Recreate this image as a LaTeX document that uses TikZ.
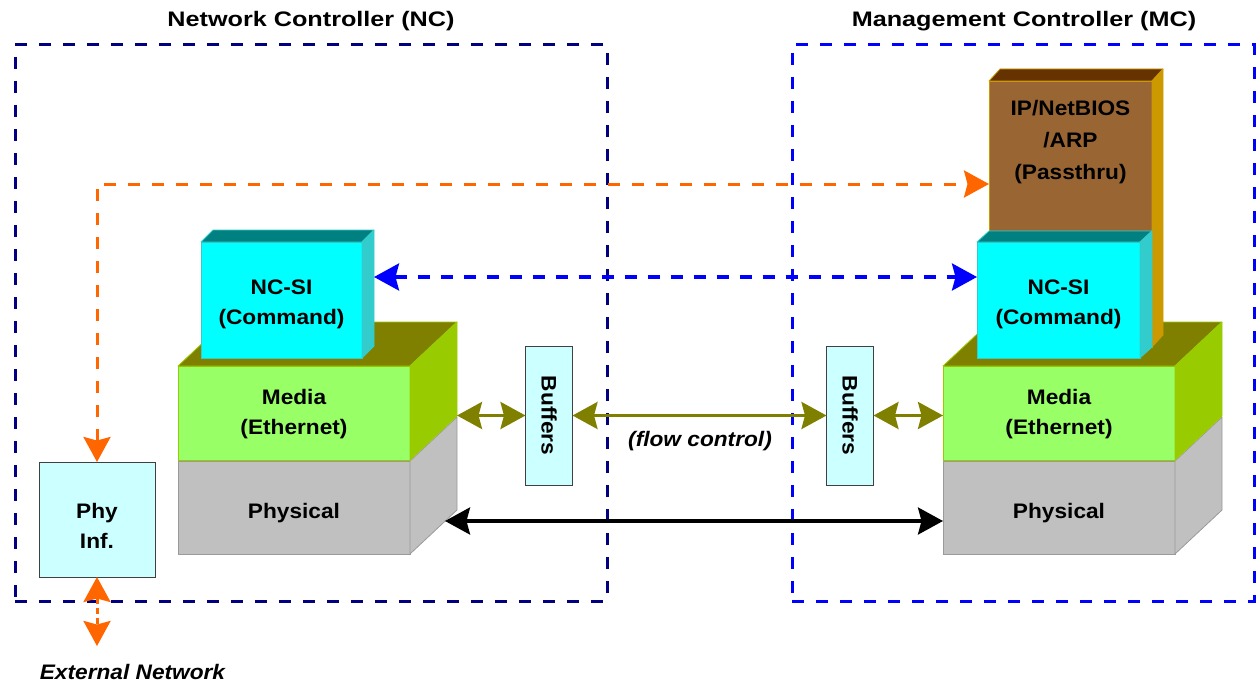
\documentclass[tikz,border=0pt]{standalone}
\usepackage{fontspec}
\setmainfont{Liberation Sans}[FakeStretch=1.08]
\newfontfamily\titlefont{Liberation Sans}[FakeStretch=1.2]
\usetikzlibrary{arrows.meta,calc}

\definecolor{ncnavy}{HTML}{000080}
\definecolor{mcblue}{HTML}{0000FF}
\definecolor{mediaF}{HTML}{99FF66}
\definecolor{mediaT}{HTML}{808000}
\definecolor{mediaR}{HTML}{99CC00}
\definecolor{phyF}{HTML}{C0C0C0}
\definecolor{phyE}{HTML}{9A9A9A}
\definecolor{nciF}{HTML}{00FFFF}
\definecolor{nciT}{HTML}{008080}
\definecolor{nciR}{HTML}{33CCCC}
\definecolor{ipF}{HTML}{996633}
\definecolor{ipT}{HTML}{663300}
\definecolor{ipR}{HTML}{CC9900}
\definecolor{bufF}{HTML}{CCFFFF}
\definecolor{bufE}{HTML}{404040}
\definecolor{flow}{HTML}{808000}
\definecolor{passthru}{HTML}{FF6600}

% top and right faces of a block whose front face is node #1
% #2 depth to the right, #3 rise, #4 fill, #5 edge
\newcommand{\blocktop}[5]{%
  \filldraw[fill=#4, draw=#5, line width=0.8pt, line join=round]
    (#1.north west) -- ++(#2,-#3) -- ($(#1.north east)+(#2,-#3)$) -- (#1.north east) -- cycle;}
\newcommand{\blockside}[5]{%
  \filldraw[fill=#4, draw=#5, line width=0.8pt, line join=round]
    (#1.north east) -- ++(#2,-#3) -- ($(#1.south east)+(#2,-#3)$) -- (#1.south east) -- cycle;}
% a text line set a little lower, keeping its size for centring
\newcommand{\lowered}[2]{\raisebox{-#1pt}[\height][\depth]{#2}}

\tikzset{
  lbl/.style={font=\fontsize{21}{30}\selectfont\bfseries, align=center},
  title/.style={font=\titlefont\fontsize{21}{25}\selectfont\bfseries},
  note/.style={font=\fontsize{21}{25}\selectfont\bfseries\itshape},
  face/.style={lbl, inner sep=0pt, outer sep=0pt, line width=0.8pt},
  bufbox/.style={face, fill=bufF, draw=bufE, line width=1pt},
  ctlbox/.style={draw, line width=3pt, dash pattern=on 12pt off 12pt, inner sep=0pt, outer sep=0pt},
  tipend/.tip={Stealth[length=25pt, width=27pt, inset=3.5pt]},
  link/.style={line width=3.3pt, tipend-tipend},
}

\begin{document}
\begin{tikzpicture}[x=1pt, y=-1pt]
\useasboundingbox (0,0) rectangle (1256,685);

% controller enclosures
\node[ctlbox, draw=ncnavy, minimum width=592pt, minimum height=556pt] (nc) at (311,323) {};
\node[ctlbox, draw=mcblue, minimum width=462pt, minimum height=556pt] (mc) at (1023,323) {};
\node[title] (nctitle) at (311,21.5) {Network Controller (NC)};
\node[title] (mctitle) at (1024,21.5) {Management Controller (MC)};

% NC protocol stack
\node[face, fill=phyF, draw=phyE, minimum width=232pt, minimum height=93pt] (lphy) at (294,507.5) {\lowered{6}{Physical}};
\blockside{lphy}{47}{44}{phyF}{phyE}
\node[face, fill=mediaF, draw=mediaR, minimum width=232pt, minimum height=94pt] (lmed) at (294,413) {\lowered{1}{Media}\\\lowered{1}{(Ethernet)}};
\blocktop{lmed}{47}{44}{mediaT}{mediaR}
\blockside{lmed}{47}{44}{mediaR}{mediaR}
\node[face, fill=nciF, draw=nciR, minimum width=161pt, minimum height=116pt] (lnc) at (281.5,300) {\lowered{4}{NC-SI}\\\lowered{4}{(Command)}};
\blocktop{lnc}{12}{12}{nciT}{nciR}
\blockside{lnc}{12}{12}{nciR}{nciR}

% MC protocol stack
\node[face, fill=phyF, draw=phyE, minimum width=232pt, minimum height=93pt] (rphy) at (1059,507.5) {\lowered{6}{Physical}};
\blockside{rphy}{47}{44}{phyF}{phyE}
\node[face, fill=mediaF, draw=mediaR, minimum width=232pt, minimum height=94pt] (rmed) at (1059,413) {\lowered{1}{Media}\\\lowered{1}{(Ethernet)}};
\blocktop{rmed}{47}{44}{mediaT}{mediaR}
\blockside{rmed}{47}{44}{mediaR}{mediaR}
\node[face, fill=ipF, draw=ipR, minimum width=163pt, minimum height=266pt,
      label={[lbl, font=\fontsize{21}{32}\selectfont\bfseries, anchor=center, yshift=-61pt]north:{IP/NetBIOS\\/ARP\\(Passthru)}}]
      (rip) at (1070.5,214) {};
\blocktop{rip}{11}{12}{ipT}{ipR}
\blockside{rip}{11}{12}{ipR}{ipR}
\node[face, fill=nciF, draw=nciR, minimum width=163pt, minimum height=116pt] (rnc) at (1058.5,300) {\lowered{4}{NC-SI}\\\lowered{4}{(Command)}};
\blocktop{rnc}{12}{11}{nciT}{nciR}
\blockside{rnc}{12}{11}{nciR}{nciR}

% buffers and physical interface
\node[bufbox, minimum width=47pt, minimum height=139pt] (lbuf) at (549,415.5) {\rotatebox{-90}{Buffers}};
\node[bufbox, minimum width=47pt, minimum height=139pt] (rbuf) at (850,415.5) {\rotatebox{-90}{Buffers}};
\node[bufbox, minimum width=116pt, minimum height=115pt] (phyinf) at (97,519.5) {\lowered{6}{Phy}\\\lowered{6}{Inf.}};

% connection points on the block faces
\coordinate (lmedB) at ($(lmed.south east)+(47,-44)$);
\coordinate (lphyB) at ($(lphy.south east)+(35,-33)$);
\coordinate (extnet) at ($(phyinf.south)+(0,69)$);

% NC-SI command channel
\draw[link, mcblue, dash pattern=on 12pt off 11pt] ($(lnc.east)+(12,-23)$) -- ($(rnc.west)+(0,-23)$);
% pass-through traffic
\draw[link, passthru, line width=3pt, dash pattern=on 12pt off 12pt] (phyinf.north) |- ($(rip.west)+(0,-30)$);
\draw[link, passthru, line width=3pt, dash pattern=on 6pt off 4pt] (phyinf.south) -- (extnet);
% buffered media path
\draw[link, flow] (lmedB |- lbuf.west) -- (lbuf.west);
\draw[link, flow] (lbuf.east) -- (rbuf.west);
\draw[link, flow] (rbuf.east) -- (rmed.west |- rbuf.east);
% physical link
\draw[link, black] (lphyB) -- (rphy.west |- lphyB);

\node[note] (flowctl) at (700,441) {(flow control)};
\node[note] (extlbl) at (132.5,672) {External Network};
\end{tikzpicture}
\end{document}
